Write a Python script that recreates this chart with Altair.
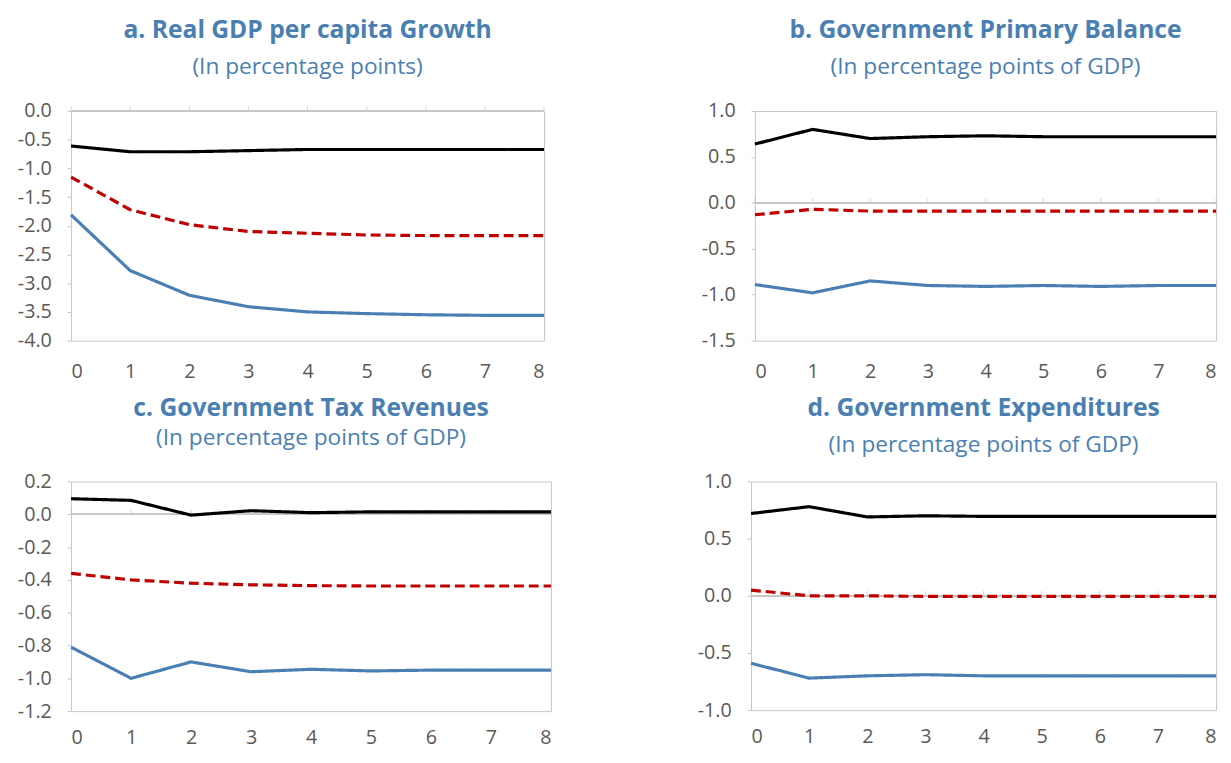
import altair as alt
import pandas as pd

periods = [0, 1, 2, 3, 4, 5, 6, 7, 8]

a_upper = [-0.61, -0.71, -0.71, -0.69, -0.67, -0.67, -0.67, -0.67, -0.67]
a_mean = [-1.15, -1.72, -1.98, -2.10, -2.13, -2.16, -2.17, -2.17, -2.17]
a_lower = [-1.81, -2.78, -3.21, -3.41, -3.50, -3.53, -3.55, -3.56, -3.56]

b_upper = [0.64, 0.80, 0.70, 0.72, 0.73, 0.72, 0.72, 0.72, 0.72]
b_mean = [-0.13, -0.07, -0.09, -0.09, -0.09, -0.09, -0.09, -0.09, -0.09]
b_lower = [-0.89, -0.98, -0.85, -0.90, -0.91, -0.90, -0.91, -0.90, -0.90]

c_upper = [0.095, 0.085, -0.005, 0.022, 0.01, 0.015, 0.015, 0.015, 0.015]
c_mean = [-0.36, -0.40, -0.42, -0.43, -0.435, -0.437, -0.437, -0.437, -0.437]
c_lower = [-0.81, -1.00, -0.90, -0.96, -0.945, -0.955, -0.95, -0.95, -0.95]

d_upper = [0.72, 0.78, 0.69, 0.70, 0.695, 0.695, 0.695, 0.695, 0.695]
d_mean = [0.05, 0.0, 0.0, -0.005, -0.005, -0.005, -0.005, -0.005, -0.005]
d_lower = [-0.59, -0.72, -0.70, -0.69, -0.70, -0.70, -0.70, -0.70, -0.70]

titles = {
    "a": "a. Real GDP per capita Growth",
    "b": "b. Government Primary Balance",
    "c": "c. Government Tax Revenues",
    "d": "d. Government Expenditures",
}
subtitles = {
    "a": "(In percentage points)",
    "b": "(In percentage points of GDP)",
    "c": "(In percentage points of GDP)",
    "d": "(In percentage points of GDP)",
}
y_domains = {"a": [-4.0, 0.0], "b": [-1.5, 1.0], "c": [-1.2, 0.2], "d": [-1.0, 1.0]}
y_ticks = {
    "a": [0.0, -0.5, -1.0, -1.5, -2.0, -2.5, -3.0, -3.5, -4.0],
    "b": [1.0, 0.5, 0.0, -0.5, -1.0, -1.5],
    "c": [0.2, 0.0, -0.2, -0.4, -0.6, -0.8, -1.0, -1.2],
    "d": [1.0, 0.5, 0.0, -0.5, -1.0],
}
series_names = ["upper", "mean", "lower"]
panel_series = {
    "a": [a_upper, a_mean, a_lower],
    "b": [b_upper, b_mean, b_lower],
    "c": [c_upper, c_mean, c_lower],
    "d": [d_upper, d_mean, d_lower],
}

rows = []
for p, lists in panel_series.items():
    for s, vals in zip(series_names, lists):
        for x, v in zip(periods, vals):
            rows.append({"panel": p, "series": s, "x": x, "value": v})
df = pd.DataFrame(rows)
tick_df = pd.DataFrame({"x": periods})

TITLE_COLOR = "#4a7fb3"
FONT = "Open Sans"
AXIS_GRAY = "#c6c6c6"
LABEL_GRAY = "#595959"
LABEL_SIZE = 20

label_expr = "(datum.value < -0.0001 ? '-' : '') + format(abs(datum.value), '.1f')"


def panel(key, w, h, sub_pad, offset, x_pad, extra_left=0):
    xscale = alt.Scale(domain=[0, 8], nice=False, zero=False)
    yscale = alt.Scale(domain=y_domains[key], nice=False, zero=False)
    xaxis = alt.Axis(values=periods, ticks=False, domain=False, grid=False,
                     labelPadding=x_pad, title=None, format="d",
                     labelFont=FONT, labelFontSize=LABEL_SIZE, labelColor=LABEL_GRAY)
    yargs = dict(values=y_ticks[key], labelExpr=label_expr, tickSize=4,
                 tickColor=AXIS_GRAY, labelPadding=16, domain=False, grid=False,
                 labelFont=FONT, labelFontSize=LABEL_SIZE, labelColor=LABEL_GRAY)
    if extra_left:
        yargs.update(title=" ", titleFontSize=2, titleColor="white",
                     titlePadding=extra_left)
    else:
        yargs.update(title=None)
    yaxis = alt.Axis(**yargs)
    zero = alt.Chart(tick_df).mark_rule(color=AXIS_GRAY, strokeWidth=1).encode(
        y=alt.YDatum(0, type="quantitative", scale=yscale, axis=yaxis)
    )
    ticks = alt.Chart(tick_df).mark_tick(
        orient="vertical", size=5, thickness=1, color=AXIS_GRAY, yOffset=-2.5
    ).encode(
        x=alt.X("x:Q", scale=xscale, axis=xaxis),
        y=alt.YDatum(0, type="quantitative", scale=yscale, axis=yaxis),
    )
    lines = alt.Chart(df[df.panel == key]).mark_line(strokeWidth=3.2).encode(
        x=alt.X("x:Q", scale=xscale, axis=xaxis),
        y=alt.Y("value:Q", scale=yscale, axis=yaxis),
        color=alt.Color("series:N", scale=alt.Scale(domain=series_names,
                        range=["#000000", "#c00000", "#4a7fb3"]), legend=None),
        strokeDash=alt.StrokeDash("series:N", scale=alt.Scale(domain=series_names,
                        range=[[1, 0], [10, 5], [1, 0]]), legend=None),
    )
    return alt.layer(zero, ticks, lines).properties(
        width=w, height=h,
        title=alt.TitleParams(
            text=titles[key], subtitle=subtitles[key], anchor="middle",
            font=FONT, fontSize=25, fontWeight="bold", color=TITLE_COLOR,
            subtitleFont=FONT, subtitleFontSize=23, subtitleColor=TITLE_COLOR,
            subtitlePadding=sub_pad, offset=offset,
        ),
    )


row1 = alt.hconcat(panel("a", 480, 233, 13, 23, 21, extra_left=6),
                   panel("b", 468, 233, 13, 23, 21), spacing=151)
row2 = alt.hconcat(panel("c", 487, 233, 6, 22, 17),
                   panel("d", 472, 232, 13, 15, 17), spacing=140)

chart = alt.vconcat(row1, row2, spacing=14).properties(
    padding={"left": 0, "top": 4, "right": 0, "bottom": 0},
    background="white",
).configure_view(
    stroke=AXIS_GRAY, strokeWidth=1
)

chart.save("out.html", embed_options={"renderer": "svg", "actions": False})
